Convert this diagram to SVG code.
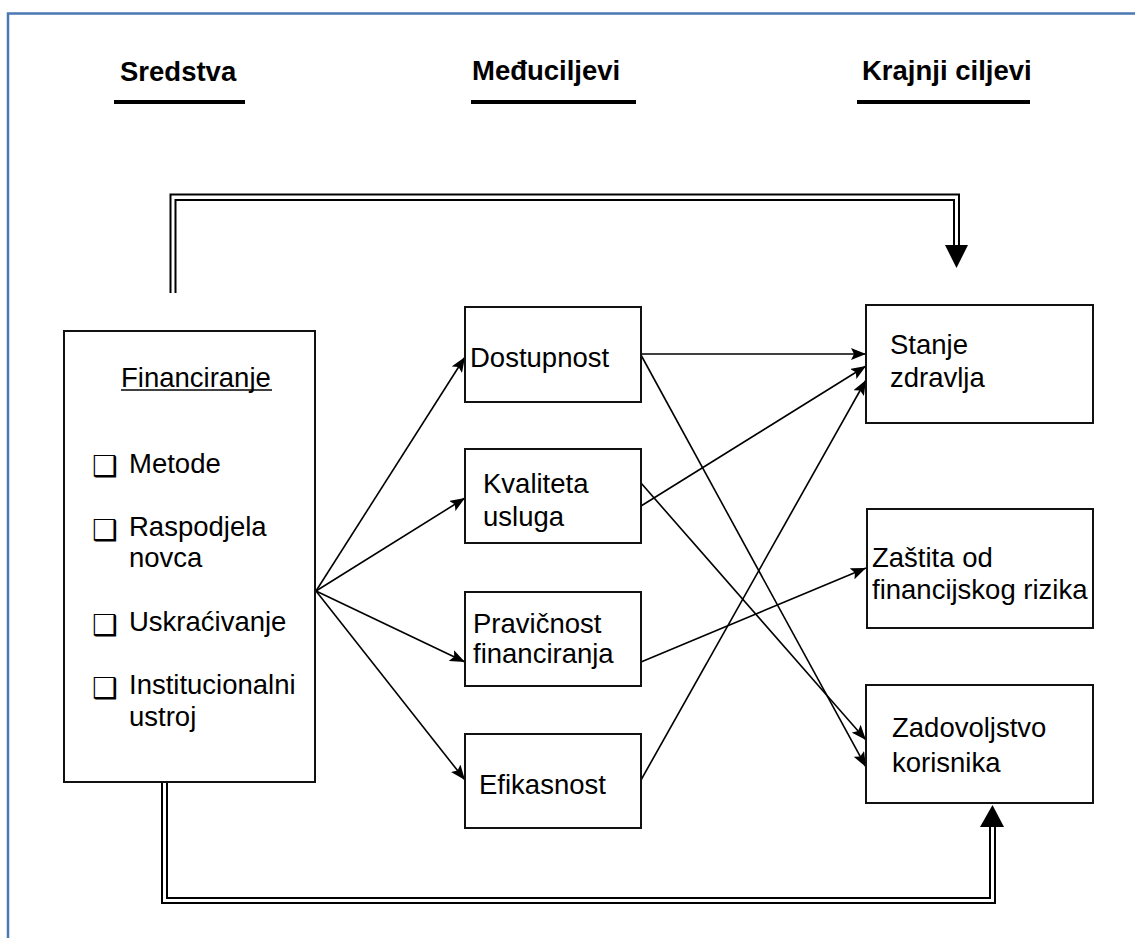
<svg xmlns="http://www.w3.org/2000/svg" width="1135" height="938" viewBox="0 0 1135 938">
<defs>
<marker id="arr" markerUnits="userSpaceOnUse" markerWidth="16" markerHeight="12" refX="15" refY="6" orient="auto">
<path d="M0,0 L15,6 L0,12 L3,6 Z" fill="#000"/>
</marker>
<style>
.t{font-family:"Liberation Sans",Arial,sans-serif;font-size:27.5px;fill:#000}
.h{font-family:"Liberation Sans",Arial,sans-serif;font-size:27.5px;font-weight:bold;fill:#000}
.b{font-family:"DejaVu Sans",sans-serif;font-size:29px;fill:#000}
.box{fill:#fff;stroke:#111;stroke-width:2}
.c{fill:none;stroke:#000;stroke-width:1.6}
.dl{fill:none;stroke:#000;stroke-width:2}
.ul{stroke:#000;stroke-width:4}
</style>
</defs>
<rect width="1135" height="938" fill="#fff"/>
<path d="M8,940 L8,13.5 L1140,13.5" fill="none" stroke="#4a7ab3" stroke-width="2.5"/>

<g id="headers">
<text class="h" x="120" y="81">Sredstva</text>
<line class="ul" x1="114" y1="102" x2="245" y2="102"/>
<text class="h" x="472" y="80">Međuciljevi</text>
<line class="ul" x1="471" y1="102" x2="636" y2="102"/>
<text class="h" x="862" y="80">Krajnji ciljevi</text>
<line class="ul" x1="857" y1="102" x2="1030" y2="102"/>
</g>

<g id="connectors">
<path class="dl" d="M170.5,293 V194.5 H959 V247"/>
<path class="dl" d="M175.5,293 V200 H954 V247"/>
<polygon points="945,245 968,245 956.5,268" fill="#000"/>
<path class="dl" d="M162,782 V903 H995 V827"/>
<path class="dl" d="M167,782 V898 H990 V827"/>
<polygon points="980,827 1004,827 992.5,805" fill="#000"/>

<line class="c" x1="316" y1="591" x2="465" y2="357" marker-end="url(#arr)"/>
<line class="c" x1="316" y1="591" x2="465" y2="498" marker-end="url(#arr)"/>
<line class="c" x1="316" y1="591" x2="465" y2="662" marker-end="url(#arr)"/>
<line class="c" x1="316" y1="591" x2="465" y2="780" marker-end="url(#arr)"/>

<line class="c" x1="641" y1="354" x2="866" y2="354" marker-end="url(#arr)"/>
<line class="c" x1="641" y1="355" x2="866" y2="767" marker-end="url(#arr)"/>
<line class="c" x1="641" y1="506" x2="866" y2="366" marker-end="url(#arr)"/>
<line class="c" x1="641" y1="483" x2="866" y2="740" marker-end="url(#arr)"/>
<line class="c" x1="641" y1="662" x2="866" y2="568" marker-end="url(#arr)"/>
<line class="c" x1="641" y1="780" x2="866" y2="380" marker-end="url(#arr)"/>
</g>

<g id="financiranje">
<rect class="box" x="64" y="331" width="251" height="451"/>
<text class="t" x="121" y="387">Financiranje</text>
<line x1="121" y1="390" x2="272" y2="390" stroke="#000" stroke-width="1.5"/>
<text class="b" x="92" y="476">❑</text>
<text class="t" x="129" y="473">Metode</text>
<text class="b" x="92" y="540">❑</text>
<text class="t" x="129" y="536">Raspodjela</text>
<text class="t" x="129" y="567">novca</text>
<text class="b" x="92" y="635">❑</text>
<text class="t" x="129" y="631">Uskraćivanje</text>
<text class="b" x="92" y="698">❑</text>
<text class="t" x="129" y="694">Institucionalni</text>
<text class="t" x="129" y="726">ustroj</text>
</g>

<g id="dostupnost">
<rect class="box" x="465" y="307" width="176" height="95"/>
<text class="t" x="470" y="367">Dostupnost</text>
</g>
<g id="kvaliteta">
<rect class="box" x="465" y="449" width="176" height="94"/>
<text class="t" x="483" y="493">Kvaliteta</text>
<text class="t" x="483" y="526">usluga</text>
</g>
<g id="pravicnost">
<rect class="box" x="465" y="592" width="176" height="94"/>
<text class="t" x="473" y="633">Pravičnost</text>
<text class="t" x="473" y="663">financiranja</text>
</g>
<g id="efikasnost">
<rect class="box" x="465" y="734" width="176" height="94"/>
<text class="t" x="479" y="794">Efikasnost</text>
</g>

<g id="stanje">
<rect class="box" x="866" y="305" width="227" height="118"/>
<text class="t" x="890" y="354">Stanje</text>
<text class="t" x="890" y="387">zdravlja</text>
</g>
<g id="zastita">
<rect class="box" x="867" y="509" width="226" height="119"/>
<text class="t" x="872" y="567">Zaštita od</text>
<text class="t" x="872" y="599">financijskog rizika</text>
</g>
<g id="zadovoljstvo">
<rect class="box" x="866" y="685" width="227" height="118"/>
<text class="t" x="892" y="737">Zadovoljstvo</text>
<text class="t" x="892" y="772">korisnika</text>
</g>
</svg>
